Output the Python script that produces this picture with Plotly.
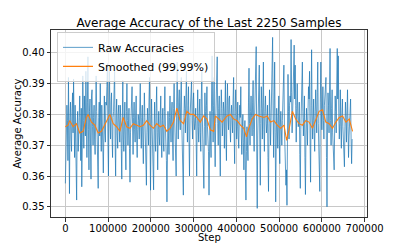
import plotly.graph_objects as go

TITLE = "Average Accuracy of the Last 2250 Samples"
X_LABEL = "Step"
Y_LABEL = "Average Accuracy"
RAW_NAME = "Raw Accuracies"
SMOOTH_NAME = "Smoothed (99.99%)"

# raw series: one logged point every 1200 steps; values listed as two
# interleaved halves (even-indexed points, odd-indexed points)
RAW_STEP_INTERVAL = 1200
raw_acc_even = [
    0.3576, 0.373, 0.378, 0.3920, 0.3543, 0.384, 0.368, 0.387, 0.3915, 0.366,
    0.371, 0.3522, 0.381, 0.372, 0.386, 0.365, 0.3565, 0.3925, 0.369, 0.380,
    0.394, 0.366, 0.3987, 0.362, 0.385, 0.359, 0.388, 0.370, 0.383, 0.367,
    0.3925, 0.372, 0.356, 0.384, 0.390, 0.368, 0.379, 0.361, 0.386, 0.371,
    0.383, 0.3965, 0.360, 0.394, 0.372, 0.387, 0.366, 0.381, 0.394, 0.360,
    0.385, 0.369, 0.383, 0.371, 0.379, 0.359, 0.391, 0.368, 0.384, 0.362,
    0.390, 0.370, 0.382, 0.358, 0.379, 0.389, 0.367, 0.384, 0.371, 0.386,
    0.366, 0.380, 0.372, 0.390, 0.369, 0.383, 0.364, 0.387, 0.372, 0.357,
    0.382, 0.370, 0.392, 0.3554, 0.385, 0.371, 0.3555, 0.384, 0.368, 0.389,
    0.362, 0.381, 0.370, 0.386, 0.366, 0.382, 0.368, 0.389, 0.372, 0.3516,
    0.381, 0.367, 0.386, 0.371, 0.384, 0.365, 0.390, 0.374, 0.360, 0.397,
    0.372, 0.388, 0.375, 0.392, 0.369, 0.3538, 0.386, 0.374, 0.394, 0.371,
    0.389, 0.360, 0.384, 0.391, 0.372, 0.387, 0.375, 0.382, 0.360, 0.388,
    0.371, 0.385, 0.368, 0.394, 0.373, 0.356, 0.387, 0.370, 0.389, 0.372,
    0.3538, 0.381, 0.366, 0.399, 0.371, 0.392, 0.363, 0.385, 0.3987, 0.370,
    0.386, 0.360, 0.388, 0.373, 0.384, 0.369, 0.391, 0.365, 0.390, 0.375,
    0.386, 0.371, 0.383, 0.374, 0.392, 0.364, 0.388, 0.372, 0.384, 0.369,
    0.383, 0.389, 0.367, 0.380, 0.362, 0.378, 0.3522, 0.376, 0.365, 0.395,
    0.370, 0.386, 0.373, 0.391, 0.368, 0.387, 0.402, 0.3495, 0.385, 0.396,
    0.357, 0.389, 0.372, 0.397, 0.368, 0.386, 0.374, 0.383, 0.355, 0.388,
    0.370, 0.385, 0.405, 0.366, 0.397, 0.3516, 0.382, 0.369, 0.386, 0.364,
    0.381, 0.370, 0.384, 0.396, 0.368, 0.357, 0.3505, 0.393, 0.372, 0.386,
    0.4043, 0.374, 0.389, 0.4025, 0.396, 0.371, 0.390, 0.376, 0.384, 0.356,
    0.388, 0.397, 0.373, 0.386, 0.354, 0.382, 0.370, 0.389, 0.394, 0.358,
    0.401, 0.372, 0.385, 0.368, 0.388, 0.374, 0.397, 0.371, 0.355, 0.397,
    0.375, 0.389, 0.372, 0.386, 0.392, 0.350, 0.387, 0.374, 0.4014, 0.370,
    0.388, 0.367, 0.362, 0.386, 0.374, 0.4014, 0.399, 0.372, 0.388, 0.369,
    0.385, 0.373, 0.363, 0.384, 0.371, 0.388, 0.366, 0.379, 0.385, 0.364,
]
raw_acc_odd = [
    0.369, 0.383, 0.365, 0.376, 0.379, 0.372, 0.381, 0.374, 0.378, 0.383,
    0.362, 0.377, 0.368, 0.379, 0.374, 0.382, 0.371, 0.378, 0.386, 0.373,
    0.379, 0.384, 0.375, 0.381, 0.370, 0.386, 0.376, 0.379, 0.372, 0.380,
    0.381, 0.367, 0.379, 0.373, 0.375, 0.383, 0.370, 0.380, 0.374, 0.384,
    0.389, 0.371, 0.382, 0.378, 0.384, 0.373, 0.379, 0.388, 0.371, 0.380,
    0.374, 0.380, 0.376, 0.383, 0.369, 0.378, 0.372, 0.378, 0.370, 0.381,
    0.378, 0.376, 0.369, 0.374, 0.384, 0.377, 0.379, 0.375, 0.380, 0.372,
    0.375, 0.378, 0.381, 0.376, 0.379, 0.371, 0.377, 0.379, 0.368, 0.374,
    0.377, 0.384, 0.372, 0.373, 0.377, 0.366, 0.376, 0.371, 0.382, 0.374,
    0.375, 0.373, 0.380, 0.372, 0.378, 0.371, 0.381, 0.376, 0.365, 0.372,
    0.373, 0.379, 0.376, 0.380, 0.371, 0.382, 0.379, 0.369, 0.384, 0.381,
    0.384, 0.378, 0.386, 0.377, 0.370, 0.379, 0.382, 0.385, 0.378, 0.383,
    0.372, 0.379, 0.386, 0.378, 0.384, 0.379, 0.377, 0.371, 0.378, 0.376,
    0.380, 0.374, 0.385, 0.379, 0.369, 0.376, 0.381, 0.383, 0.376, 0.368,
    0.371, 0.373, 0.385, 0.381, 0.383, 0.374, 0.377, 0.392, 0.377, 0.382,
    0.370, 0.379, 0.382, 0.377, 0.381, 0.384, 0.372, 0.383, 0.379, 0.385,
    0.376, 0.380, 0.378, 0.385, 0.374, 0.381, 0.379, 0.376, 0.373, 0.378,
    0.379, 0.373, 0.375, 0.371, 0.372, 0.361, 0.368, 0.370, 0.384, 0.377,
    0.381, 0.379, 0.384, 0.375, 0.380, 0.391, 0.370, 0.373, 0.388, 0.372,
    0.377, 0.382, 0.384, 0.375, 0.381, 0.380, 0.377, 0.366, 0.377, 0.379,
    0.378, 0.391, 0.380, 0.383, 0.374, 0.370, 0.377, 0.379, 0.370, 0.376,
    0.375, 0.378, 0.389, 0.376, 0.367, 0.362, 0.373, 0.381, 0.383, 0.384,
    0.387, 0.380, 0.393, 0.385, 0.383, 0.382, 0.380, 0.378, 0.367, 0.375,
    0.384, 0.381, 0.379, 0.366, 0.373, 0.377, 0.381, 0.385, 0.372, 0.383,
    0.380, 0.378, 0.374, 0.381, 0.380, 0.387, 0.377, 0.367, 0.384, 0.382,
    0.381, 0.378, 0.383, 0.388, 0.366, 0.374, 0.383, 0.389, 0.378, 0.382,
    0.374, 0.368, 0.376, 0.381, 0.390, 0.385, 0.380, 0.377, 0.376, 0.380,
    0.376, 0.370, 0.376, 0.379, 0.380, 0.376, 0.373, 0.381, 0.372, 0.372,
]
raw_acc = [v for pair in zip(raw_acc_even, raw_acc_odd) for v in pair]
raw_steps = [i * RAW_STEP_INTERVAL for i in range(len(raw_acc))]

smooth_steps = [
    0, 6265, 10180, 18010, 25840, 33670, 41500, 49330, 53250, 61080,
    68910, 76740, 84570, 92400, 100240, 104150, 111980, 119810, 127640, 135470,
    143300, 151140, 158970, 166800, 174630, 182460, 190290, 198120, 205950, 213780,
    221610, 229440, 237280, 245110, 252940, 260770, 268600, 276430, 284260, 292100,
    299930, 307760, 315590, 323420, 331250, 339080, 346910, 350830, 358660, 366490,
    378240, 386070, 393890, 401730, 409560, 417390, 423650, 429140, 436970, 444800,
    452630, 464380, 472210, 480040, 487870, 495700, 503540, 511370, 517630, 523110,
    530950, 538780, 546610, 554440, 562270, 570100, 577930, 585760, 593600, 601430,
    609260, 617090, 624920, 632750, 640580, 648410, 656240, 664070, 671900,
]
smooth_acc = [
    0.3760, 0.3765, 0.3780, 0.3760, 0.3770, 0.3740, 0.3745, 0.3790, 0.3800, 0.3775,
    0.3765, 0.3740, 0.3745, 0.3765, 0.3785, 0.3800, 0.3770, 0.3760, 0.3745, 0.3790,
    0.3760, 0.3755, 0.3770, 0.3765, 0.3760, 0.3765, 0.3780, 0.3765, 0.3755, 0.3770,
    0.3760, 0.3765, 0.3745, 0.3755, 0.3775, 0.3820, 0.3780, 0.3770, 0.3810, 0.3800,
    0.3800, 0.3790, 0.3775, 0.3795, 0.3785, 0.3750, 0.3745, 0.3795, 0.3785, 0.3775,
    0.3795, 0.3800, 0.3785, 0.3780, 0.3765, 0.3755, 0.3727, 0.3755, 0.3785, 0.3800,
    0.3795, 0.3790, 0.3795, 0.3775, 0.3780, 0.3765, 0.3755, 0.3765, 0.3716, 0.3750,
    0.3810, 0.3785, 0.3770, 0.3765, 0.3780, 0.3775, 0.3755, 0.3785, 0.3810, 0.3815,
    0.3775, 0.3770, 0.3755, 0.3775, 0.3790, 0.3795, 0.3775, 0.3785, 0.3745,
]

fig = go.Figure()
fig.add_trace(go.Scatter(
    x=raw_steps, y=raw_acc, mode="lines", name=RAW_NAME,
    line=dict(color="rgba(31,119,180,0.72)", width=1),
))
fig.add_trace(go.Scatter(
    x=smooth_steps, y=smooth_acc, mode="lines", name=SMOOTH_NAME,
    line=dict(color="#ff7f0e", width=1.1),
))

# the page body adds an 8px offset; the figure is sized to fill the rest
W, H = 399, 236
ML, MR, MT, MB = 43, 40, 22, 27
PLOT_W, PLOT_H = W - ML - MR, H - MT - MB
font = "DejaVu Sans, sans-serif"
axis_common = dict(
    showgrid=True, gridcolor="#c8c8c8", gridwidth=1,
    showline=True, linecolor="#333333", linewidth=1, mirror=True,
    ticks="outside", ticklen=3.5, tickcolor="#333333", tickwidth=1,
    zeroline=False, automargin=False, tickangle=0,
    tickfont=dict(family=font, size=10, color="#000"),
)
fig.update_layout(
    width=W, height=H,
    margin=dict(l=ML, r=MR, t=MT, b=MB),
    paper_bgcolor="white", plot_bgcolor="white",
    title=dict(text=TITLE, x=0.5, xref="paper", xanchor="center",
               y=1 - 14.7 / H, yanchor="middle",
               font=dict(family=font, size=12, color="#000")),
    xaxis=dict(range=[-33600, 705600],
               tickvals=[0, 100000, 200000, 300000, 400000, 500000, 600000, 700000],
               ticktext=["0", "100000", "200000", "300000", "400000", "500000", "600000", "700000"],
               ticklabelstandoff=-2,
               **axis_common),
    yaxis=dict(range=[0.3467, 0.4074], tickvals=[0.35, 0.36, 0.37, 0.38, 0.39, 0.40],
               tickformat=".2f",
               **axis_common),
    showlegend=True,
    legend=dict(x=0.019, y=0.99, xanchor="left", yanchor="top",
                bgcolor="rgba(255,255,255,0.8)", bordercolor="#cccccc", borderwidth=1,
                font=dict(family=font, size=11, color="#000"),
                itemwidth=30, tracegroupgap=0),
    annotations=[
        dict(text=X_LABEL, xref="paper", yref="paper", x=0.5, y=-20.0 / PLOT_H,
             xanchor="center", yanchor="middle", showarrow=False,
             font=dict(family=font, size=10, color="#000")),
        dict(text=Y_LABEL, xref="paper", yref="paper", x=-34.0 / PLOT_W, y=0.5,
             xanchor="center", yanchor="middle", showarrow=False, textangle=-90,
             font=dict(family=font, size=10, color="#000")),
    ],
)
fig.write_html("out.html")
